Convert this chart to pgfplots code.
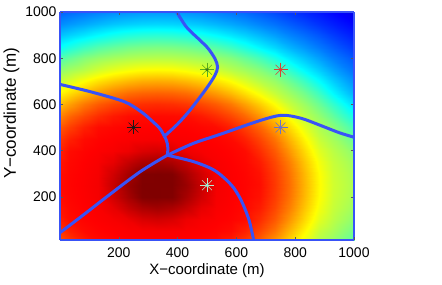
\documentclass[border=0pt]{standalone}
\usepackage{fontspec}
\setmainfont{Liberation Sans}
\usepackage{pgfplots}
\pgfplotsset{compat=1.18}
\definecolor{lc}{rgb}{0.22,0.32,0.97}
\definecolor{sblack}{rgb}{0.1,0.1,0.1}
\definecolor{sgreen}{rgb}{0.35,0.68,0.12}
\definecolor{sred}{rgb}{0.86,0.25,0.2}
\definecolor{sblue}{rgb}{0.4,0.45,0.8}
\definecolor{swhite}{rgb}{0.72,0.92,0.82}
\begin{document}
\begin{tikzpicture}
\begin{axis}[
  view={0}{90},
  scale only axis, width=294pt, height=228pt,
  at={(0,0)}, anchor=south west,
  xmin=0, xmax=1000, ymin=13, ymax=1000,
  xtick={200,400,600,800,1000}, ytick={200,400,600,800,1000},
  scaled ticks=false,
  /pgf/number format/1000 sep={},
  /pgf/number format/assume math mode=true,
  tick align=inside, major tick length=3pt,
  tick style={gray!70!black, line width=0.5pt},
  axis line style={draw=lc, line width=2pt},
  axis on top,
  colormap/jet, point meta min=0, point meta max=1,
  ticklabel style={font=\fontsize{14}{16}\selectfont},
  xticklabel style={yshift=-4pt},
  xlabel={X−coordinate (m)}, ylabel={Y−coordinate (m)},
  xlabel style={font=\fontsize{15}{18}\selectfont, at={(axis description cs:0.5,-0.136)}, anchor=center},
  ylabel style={font=\fontsize{17}{20}\selectfont, at={(axis description cs:-0.165,0.555)}, anchor=center},
  clip=true,
]
\addplot3[surf, shader=interp, mesh/rows=21, mesh/cols=22] coordinates {
(-20,0,0.775) (30,0,0.813) (80,0,0.844) (130,0,0.864) (180,0,0.869) (230,0,0.873) (280,0,0.874) (330,0,0.875) (380,0,0.874) (430,0,0.873) (480,0,0.869) (530,0,0.864) (580,0,0.844) (630,0,0.813) (680,0,0.775) (730,0,0.720) (780,0,0.662) (830,0,0.601) (880,0,0.545) (930,0,0.516) (980,0,0.476) (1030,0,0.437)
(-20,50,0.807) (30,50,0.844) (80,50,0.865) (130,50,0.872) (180,50,0.876) (230,50,0.879) (280,50,0.881) (330,50,0.882) (380,50,0.881) (430,50,0.879) (480,50,0.876) (530,50,0.872) (580,50,0.865) (630,50,0.844) (680,50,0.807) (730,50,0.761) (780,50,0.699) (830,50,0.635) (880,50,0.571) (930,50,0.541) (980,50,0.504) (1030,50,0.466)
(-20,100,0.831) (30,100,0.864) (80,100,0.872) (130,100,0.877) (180,100,0.882) (230,100,0.891) (280,100,0.910) (330,100,0.917) (380,100,0.910) (430,100,0.891) (480,100,0.882) (530,100,0.877) (580,100,0.872) (630,100,0.864) (680,100,0.831) (730,100,0.787) (780,100,0.729) (830,100,0.663) (880,100,0.596) (930,100,0.558) (980,100,0.526) (1030,100,0.489)
(-20,150,0.848) (30,150,0.868) (80,150,0.875) (130,150,0.881) (180,150,0.898) (230,150,0.931) (280,150,0.956) (330,150,0.966) (380,150,0.956) (430,150,0.931) (480,150,0.898) (530,150,0.881) (580,150,0.875) (630,150,0.868) (680,150,0.848) (730,150,0.805) (780,150,0.752) (830,150,0.683) (880,150,0.615) (930,150,0.570) (980,150,0.542) (1030,150,0.506)
(-20,200,0.858) (30,200,0.871) (80,200,0.877) (130,200,0.884) (180,200,0.921) (230,200,0.962) (280,200,0.998) (330,200,1.015) (380,200,0.998) (430,200,0.962) (480,200,0.921) (530,200,0.884) (580,200,0.877) (630,200,0.871) (680,200,0.858) (730,200,0.816) (780,200,0.765) (830,200,0.696) (880,200,0.626) (930,200,0.577) (980,200,0.552) (1030,200,0.516)
(-20,250,0.862) (30,250,0.872) (80,250,0.878) (130,250,0.885) (180,250,0.930) (230,250,0.975) (280,250,1.020) (330,250,1.060) (380,250,1.020) (430,250,0.975) (480,250,0.930) (530,250,0.885) (580,250,0.878) (630,250,0.872) (680,250,0.862) (730,250,0.820) (780,250,0.770) (830,250,0.700) (880,250,0.630) (930,250,0.580) (980,250,0.555) (1030,250,0.520)
(-20,300,0.858) (30,300,0.871) (80,300,0.877) (130,300,0.884) (180,300,0.921) (230,300,0.962) (280,300,0.998) (330,300,1.015) (380,300,0.998) (430,300,0.962) (480,300,0.921) (530,300,0.884) (580,300,0.877) (630,300,0.871) (680,300,0.858) (730,300,0.816) (780,300,0.765) (830,300,0.696) (880,300,0.626) (930,300,0.577) (980,300,0.552) (1030,300,0.516)
(-20,350,0.848) (30,350,0.868) (80,350,0.875) (130,350,0.881) (180,350,0.898) (230,350,0.931) (280,350,0.956) (330,350,0.966) (380,350,0.956) (430,350,0.931) (480,350,0.898) (530,350,0.881) (580,350,0.875) (630,350,0.868) (680,350,0.848) (730,350,0.805) (780,350,0.752) (830,350,0.683) (880,350,0.615) (930,350,0.570) (980,350,0.542) (1030,350,0.506)
(-20,400,0.831) (30,400,0.864) (80,400,0.872) (130,400,0.877) (180,400,0.882) (230,400,0.891) (280,400,0.910) (330,400,0.917) (380,400,0.910) (430,400,0.891) (480,400,0.882) (530,400,0.877) (580,400,0.872) (630,400,0.864) (680,400,0.831) (730,400,0.787) (780,400,0.729) (830,400,0.663) (880,400,0.596) (930,400,0.558) (980,400,0.526) (1030,400,0.489)
(-20,450,0.807) (30,450,0.844) (80,450,0.865) (130,450,0.872) (180,450,0.876) (230,450,0.879) (280,450,0.881) (330,450,0.882) (380,450,0.881) (430,450,0.879) (480,450,0.876) (530,450,0.872) (580,450,0.865) (630,450,0.844) (680,450,0.807) (730,450,0.761) (780,450,0.699) (830,450,0.635) (880,450,0.571) (930,450,0.536) (980,450,0.494) (1030,450,0.446)
(-20,500,0.775) (30,500,0.813) (80,500,0.844) (130,500,0.864) (180,500,0.869) (230,500,0.873) (280,500,0.874) (330,500,0.875) (380,500,0.874) (430,500,0.873) (480,500,0.869) (530,500,0.864) (580,500,0.844) (630,500,0.813) (680,500,0.775) (730,500,0.720) (780,500,0.662) (830,500,0.601) (880,500,0.545) (930,500,0.511) (980,500,0.461) (1030,500,0.407)
(-20,550,0.727) (30,550,0.774) (80,550,0.806) (130,550,0.832) (180,550,0.851) (230,550,0.863) (280,550,0.865) (330,550,0.866) (380,550,0.865) (430,550,0.863) (480,550,0.851) (530,550,0.832) (580,550,0.806) (630,550,0.774) (680,550,0.727) (730,550,0.674) (780,550,0.619) (830,550,0.561) (880,550,0.519) (930,550,0.471) (980,550,0.414) (1030,550,0.361)
(-20,600,0.672) (30,600,0.717) (80,600,0.757) (130,600,0.786) (180,600,0.807) (230,600,0.822) (280,600,0.830) (330,600,0.833) (380,600,0.830) (430,600,0.822) (480,600,0.807) (530,600,0.786) (580,600,0.757) (630,600,0.717) (680,600,0.672) (730,600,0.623) (780,600,0.571) (830,600,0.529) (880,600,0.480) (930,600,0.424) (980,600,0.363) (1030,600,0.316)
(-20,650,0.613) (30,650,0.655) (80,650,0.691) (130,650,0.723) (180,650,0.749) (230,650,0.768) (280,650,0.777) (330,650,0.780) (380,650,0.777) (430,650,0.768) (480,650,0.749) (530,650,0.723) (580,650,0.691) (630,650,0.655) (680,650,0.613) (730,650,0.568) (780,650,0.531) (830,650,0.488) (880,650,0.433) (930,650,0.370) (980,650,0.318) (1030,650,0.273)
(-20,700,0.554) (30,700,0.590) (80,700,0.624) (130,700,0.653) (180,700,0.676) (230,700,0.693) (280,700,0.704) (330,700,0.707) (380,700,0.704) (430,700,0.693) (480,700,0.676) (530,700,0.653) (580,700,0.624) (630,700,0.590) (680,700,0.554) (730,700,0.524) (780,700,0.483) (830,700,0.434) (880,700,0.376) (930,700,0.327) (980,700,0.283) (1030,700,0.244)
(-20,750,0.507) (30,750,0.534) (80,750,0.556) (130,750,0.581) (180,750,0.602) (230,750,0.617) (280,750,0.627) (330,750,0.630) (380,750,0.627) (430,750,0.617) (480,750,0.602) (530,750,0.581) (580,750,0.556) (630,750,0.534) (680,750,0.507) (730,750,0.468) (780,750,0.423) (830,750,0.371) (880,750,0.327) (930,750,0.286) (980,750,0.249) (1030,750,0.218)
(-20,800,0.442) (30,800,0.475) (80,800,0.504) (130,800,0.523) (180,800,0.537) (230,800,0.547) (280,800,0.553) (330,800,0.555) (380,800,0.553) (430,800,0.547) (480,800,0.537) (530,800,0.523) (580,800,0.504) (630,800,0.475) (680,800,0.442) (730,800,0.400) (780,800,0.355) (830,800,0.318) (880,800,0.282) (930,800,0.248) (980,800,0.220) (1030,800,0.190)
(-20,850,0.365) (30,850,0.400) (80,850,0.431) (130,850,0.455) (180,850,0.472) (230,850,0.486) (280,850,0.493) (330,850,0.496) (380,850,0.493) (430,850,0.486) (480,850,0.472) (530,850,0.455) (580,850,0.431) (630,850,0.400) (680,850,0.365) (730,850,0.334) (780,850,0.301) (830,850,0.272) (880,850,0.243) (930,850,0.216) (980,850,0.189) (1030,850,0.163)
(-20,900,0.305) (30,900,0.330) (80,900,0.351) (130,900,0.372) (180,900,0.391) (230,900,0.405) (280,900,0.413) (330,900,0.416) (380,900,0.413) (430,900,0.405) (480,900,0.391) (530,900,0.372) (580,900,0.351) (630,900,0.330) (680,900,0.305) (730,900,0.280) (780,900,0.255) (830,900,0.232) (880,900,0.208) (930,900,0.183) (980,900,0.160) (1030,900,0.140)
(-20,950,0.254) (30,950,0.274) (80,950,0.290) (130,950,0.305) (180,950,0.319) (230,950,0.328) (280,950,0.334) (330,950,0.336) (380,950,0.334) (430,950,0.328) (480,950,0.319) (530,950,0.305) (580,950,0.290) (630,950,0.274) (680,950,0.254) (730,950,0.236) (780,950,0.216) (830,950,0.195) (880,950,0.173) (930,950,0.154) (980,950,0.135) (1030,950,0.116)
(-20,1000,0.213) (30,1000,0.228) (80,1000,0.240) (130,1000,0.251) (180,1000,0.262) (230,1000,0.269) (280,1000,0.274) (330,1000,0.275) (380,1000,0.274) (430,1000,0.269) (480,1000,0.262) (530,1000,0.251) (580,1000,0.240) (630,1000,0.228) (680,1000,0.213) (730,1000,0.196) (780,1000,0.178) (830,1000,0.161) (880,1000,0.145) (930,1000,0.128) (980,1000,0.110) (1030,1000,0.097)
};
% boundary lines
\addplot3[draw=lc, line width=3pt, smooth, tension=0.5] coordinates {
(-5,40,1.5) (80,122,1.5) (159,200,1.5) (272,308,1.5) (365,380,1.5)};
\addplot3[draw=lc, line width=3pt, smooth, tension=0.5] coordinates {
(365,380,1.5) (367,405,1.5) (365,430,1.5) (360,450,1.5) (355,462,1.5)};
\addplot3[draw=lc, line width=3pt, smooth, tension=0.5] coordinates {
(355,462,1.5) (340,495,1.5) (310,532,1.5) (276,568,1.5) (220,611,1.5) (106,654,1.5) (-5,688,1.5)};
\addplot3[draw=lc, line width=3pt, smooth, tension=0.5] coordinates {
(355,462,1.5) (400,515,1.5) (442,575,1.5) (498,669,1.5) (527,726,1.5) (536,762,1.5) (527,798,1.5) (504,842,1.5) (476,878,1.5) (430,935,1.5) (395,1005,1.5)};
\addplot3[draw=lc, line width=3pt, smooth, tension=0.5] coordinates {
(365,380,1.5) (453,431,1.5) (544,470,1.5) (680,530,1.5) (755,553,1.5) (820,540,1.5) (884,510,1.5) (951,477,1.5) (1005,456,1.5)};
\addplot3[draw=lc, line width=3pt, smooth, tension=0.5] coordinates {
(365,380,1.5) (455,352,1.5) (521,318,1.5) (560,280,1.5) (590,240,1.5) (612,195,1.5) (630,145,1.5) (645,90,1.5) (660,5,1.5)};
% stars
\addplot3[only marks, mark=+, mark size=7pt, draw=sblack, mark options={line width=0.6pt}] coordinates {(250,500,2)};
\addplot3[only marks, mark=x, mark size=7pt, draw=sblack, mark options={line width=0.6pt}] coordinates {(250,500,2)};
\addplot3[only marks, mark=*, mark size=1.3pt, draw=sblack, fill=sblack] coordinates {(250,500,2)};
\addplot3[only marks, mark=+, mark size=7pt, draw=sgreen, mark options={line width=0.6pt}] coordinates {(500,750,2)};
\addplot3[only marks, mark=x, mark size=7pt, draw=sgreen, mark options={line width=0.6pt}] coordinates {(500,750,2)};
\addplot3[only marks, mark=*, mark size=1.3pt, draw=sgreen!70!black, fill=sgreen!70!black] coordinates {(500,750,2)};
\addplot3[only marks, mark=+, mark size=7pt, draw=sred, mark options={line width=0.6pt}] coordinates {(750,750,2)};
\addplot3[only marks, mark=x, mark size=7pt, draw=sred, mark options={line width=0.6pt}] coordinates {(750,750,2)};
\addplot3[only marks, mark=*, mark size=1.3pt, draw=sred, fill=sred] coordinates {(750,750,2)};
\addplot3[only marks, mark=+, mark size=7pt, draw=sblue, mark options={line width=0.6pt}] coordinates {(750,500,2)};
\addplot3[only marks, mark=x, mark size=7pt, draw=sblue, mark options={line width=0.6pt}] coordinates {(750,500,2)};
\addplot3[only marks, mark=*, mark size=1.3pt, draw=sblue, fill=sblue] coordinates {(750,500,2)};
\addplot3[only marks, mark=+, mark size=7pt, draw=swhite, mark options={line width=0.6pt}] coordinates {(500,250,2)};
\addplot3[only marks, mark=x, mark size=7pt, draw=swhite, mark options={line width=0.6pt}] coordinates {(500,250,2)};
\addplot3[only marks, mark=*, mark size=1.3pt, draw=swhite!80!cyan, fill=swhite!80!cyan] coordinates {(500,250,2)};
\end{axis}
\path (-60pt,-44pt) rectangle (382pt,240pt);
\end{tikzpicture}
\end{document}
